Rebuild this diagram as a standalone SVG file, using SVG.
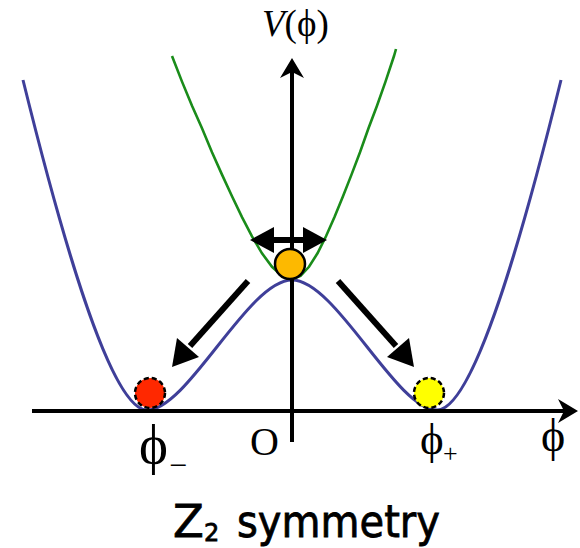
<svg xmlns="http://www.w3.org/2000/svg" width="580" height="548" viewBox="0 0 580 548">
<style>
.blue{fill:none;stroke:#3f3f99;stroke-width:3}
.green{fill:none;stroke:#1a8c1a;stroke-width:2.6}
.axis{fill:none;stroke:#000;stroke-width:4}
.serif{font-family:"Liberation Serif","Times New Roman",serif;fill:#000}
.sans{font-family:"DejaVu Sans","Liberation Sans",sans-serif;fill:#000;stroke:#000;stroke-width:0.8}
.ball{stroke:#000;stroke-width:2.5}
.dash{stroke-dasharray:5,3}
</style>
<defs>
<marker id="axhead" markerWidth="6" markerHeight="6" refX="4" refY="3" orient="auto" markerUnits="strokeWidth">
<path d="M0,0 L5,3 L0,6 L1.5,3 Z" fill="#000"/>
</marker>
</defs>
<rect width="580" height="548" fill="#fff"/>
<g id="curves">
<path id="blue-curve" class="blue" d="M23,80 C60,230 110,410 147,410 C188,410 248,280 292,280 C336,280 396,410 437,410 C474,410 524,230 561,80"/>
<path id="green-curve" class="green" d="M172,56 L182,81.6 L192,105.7 L202,128.3 L212,152.3 L222,174.6 L232,196.3 L242,217.1 L252,236.3 L262,253.3 L272,266.8 L282,275.8 L292,279 L300.5,275.8 L309,266.8 L317.5,253.3 L326,236.3 L334.5,217.1 L343,196.3 L351.5,174.6 L360,152.3 L368.5,128.3 L377,105.7 L385.5,81.6 L394,56 L396,49"/>
</g>
<g id="axes">
<line class="axis" x1="32" y1="411" x2="574" y2="411" marker-end="url(#axhead)"/>
<line class="axis" x1="292" y1="442" x2="292" y2="62" marker-end="url(#axhead)"/>
</g>
<g id="connectors">
<g id="arrow-both">
<rect x="266" y="237" width="46" height="6" fill="#000"/>
<path d="M250,240 L274,227 L274,253 Z" fill="#000"/>
<path d="M327,240 L303,227 L303,253 Z" fill="#000"/>
</g>
<g id="arrow-left">
<line x1="248" y1="281" x2="190" y2="346" stroke="#000" stroke-width="6"/>
<path d="M172,367 L177,338 L199,357 Z" fill="#000"/>
</g>
<g id="arrow-right">
<line x1="338" y1="281" x2="396" y2="346" stroke="#000" stroke-width="6"/>
<path d="M414,367 L409,338 L387,357 Z" fill="#000"/>
</g>
</g>
<g id="ball-orange"><circle class="ball" cx="290" cy="264" r="15" fill="#fdb900"/></g>
<g id="ball-red"><circle class="ball dash" cx="150" cy="393" r="15" fill="#ff2800"/></g>
<g id="ball-yellow"><circle class="ball dash" cx="429" cy="393" r="15" fill="#ffff00"/></g>
<g id="labels">
<text class="serif" x="262" y="36" font-size="37"><tspan font-style="italic">V</tspan>(ϕ)</text>
<text class="serif" x="250" y="455" font-size="40">O</text>
<text class="serif" x="139" y="463" font-size="55">ϕ<tspan x="169" y="476" font-size="32">−</tspan></text>
<text class="serif" x="420" y="454" font-size="45">ϕ<tspan x="443" y="462" font-size="26">+</tspan></text>
<text class="serif" x="541" y="451" font-size="46">ϕ</text>
<text class="sans" x="173" y="537" font-size="45">Z<tspan x="204" y="541" font-size="24">2</tspan><tspan x="237" y="537" textLength="203" lengthAdjust="spacingAndGlyphs">symmetry</tspan></text>
</g>
</svg>
